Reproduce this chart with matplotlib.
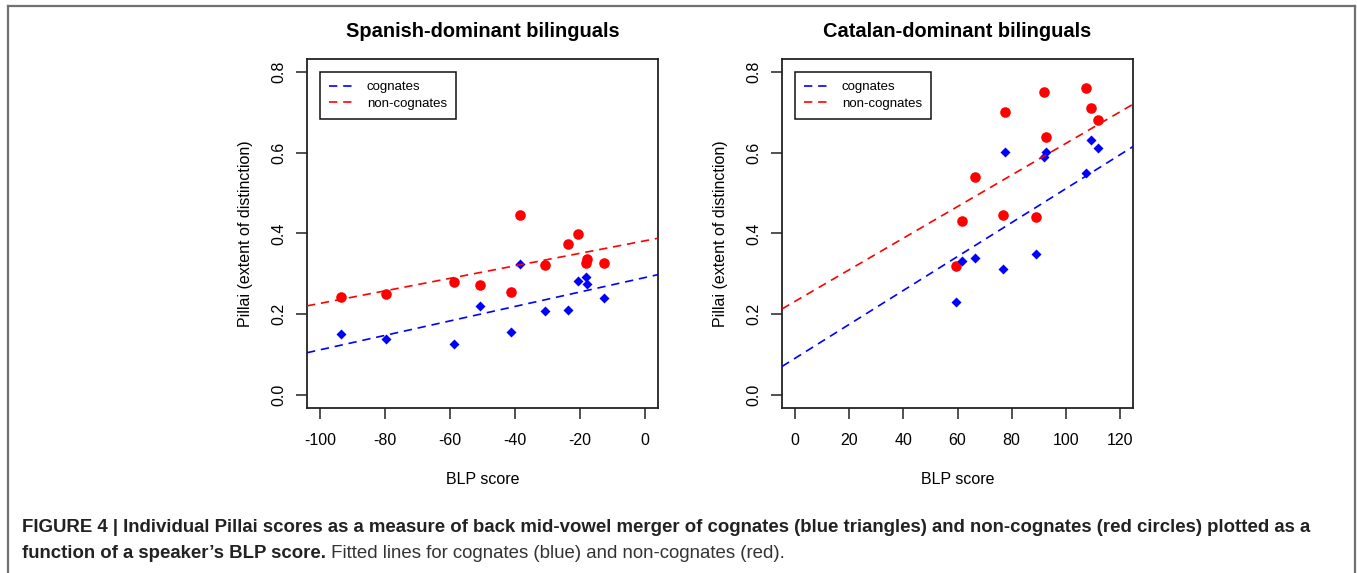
# Pillai scores vs BLP score, two panels (R-style base graphics look)
import matplotlib
matplotlib.use('Agg')
import matplotlib.pyplot as plt
from matplotlib.lines import Line2D

plt.rcParams['font.family'] = ['Liberation Sans', 'DejaVu Sans']

# ---- data ----
# Spanish-dominant
spa_blp = [-93.5, -79.7, -58.9, -50.8, -41.3, -38.5, -30.8, -23.6, -20.7, -18.0, -18.2, -12.7]
spa_noncog = [0.244, 0.251, 0.279, 0.272, 0.254, 0.445, 0.321, 0.374, 0.399, 0.336, 0.326, 0.326]
spa_cog_blp = [-93.6, -79.7, -58.9, -50.8, -41.3, -38.5, -30.8, -23.6, -20.7, -18.1, -17.9, -12.7]
spa_cog = [0.150, 0.138, 0.126, 0.221, 0.156, 0.325, 0.207, 0.210, 0.283, 0.293, 0.274, 0.240]
# fitted lines (intercept, slope)
spa_fit_cog = (0.291, 0.00179)
spa_fit_noncog = (0.382, 0.00155)

# Catalan-dominant
cat_blp = [59.6, 61.5, 66.4, 76.9, 77.6, 89.1, 91.8, 92.5, 107.4, 109.4, 111.9]
cat_noncog = [0.320, 0.431, 0.540, 0.446, 0.702, 0.441, 0.751, 0.640, 0.761, 0.711, 0.681]
cat_cog_blp = [59.6, 61.5, 66.4, 76.9, 77.7, 89.1, 91.9, 92.5, 107.4, 109.4, 111.9]
cat_cog = [0.231, 0.331, 0.340, 0.311, 0.601, 0.350, 0.590, 0.602, 0.550, 0.632, 0.611]
cat_fit_cog = (0.091, 0.00420)
cat_fit_noncog = (0.232, 0.00391)

titles = ['Spanish-dominant bilinguals', 'Catalan-dominant bilinguals']
xticks_spa = [-100, -80, -60, -40, -20, 0]
xticks_cat = [0, 20, 40, 60, 80, 100, 120]
yticks = [0.0, 0.2, 0.4, 0.6, 0.8]

fig = plt.figure(figsize=(13.57, 5.73), dpi=100)
W, H = 1357, 573

def px_axes(x0, x1, y0, y1):
    return fig.add_axes([x0 / W, 1 - y1 / H, (x1 - x0) / W, (y1 - y0) / H])

ax1 = px_axes(307, 658, 59, 408)
ax2 = px_axes(782, 1133, 59, 408)

panels = [
    (ax1, spa_blp, spa_noncog, spa_cog_blp, spa_cog, spa_fit_cog, spa_fit_noncog, xticks_spa, (-100, 0)),
    (ax2, cat_blp, cat_noncog, cat_cog_blp, cat_cog, cat_fit_cog, cat_fit_noncog, xticks_cat, (0, 120)),
]

for i, (ax, xb, yn, xc, yc, fc, fn, xt, xr) in enumerate(panels):
    pad = 0.04 * (xr[1] - xr[0])
    xlim = (xr[0] - pad, xr[1] + pad)
    ax.set_xlim(xlim)
    ax.set_ylim(-0.032, 0.832)

    ax.scatter(xb, yn, s=58, marker='o', color='#ff0000', linewidths=0, zorder=2)
    ax.scatter(xc, yc, s=26, marker='D', color='#0000ff', linewidths=0, zorder=2)

    xs = list(xlim)
    ax.plot(xs, [fc[0] + fc[1] * v for v in xs], color='#0000ff', lw=1.2,
            dashes=(5, 3.5), zorder=3)
    ax.plot(xs, [fn[0] + fn[1] * v for v in xs], color='#ff0000', lw=1.2,
            dashes=(5, 3.5), zorder=3)

    ax.set_xticks(xt)
    ax.set_xticklabels([str(v) for v in xt])
    ax.set_yticks(yticks)
    ax.set_yticklabels(['%.1f' % v for v in yticks], rotation=90, va='center')
    ax.tick_params(direction='out', length=8, width=1.1, labelsize=11.5, pad=7,
                   color='#222222')
    ax.tick_params(axis='x', pad=10)
    for s in ax.spines.values():
        s.set_linewidth(1.3)
        s.set_color('#222222')

    ax.set_title(titles[i], fontsize=14.4, fontweight='bold', pad=16)
    ax.set_xlabel('BLP score', fontsize=11.5, labelpad=17.5)
    ax.set_ylabel('Pillai (extent of distinction)', fontsize=11.5, labelpad=13)

    handles = [Line2D([], [], color='#0000ff', lw=1.2, dashes=(5, 3.5)),
               Line2D([], [], color='#ff0000', lw=1.2, dashes=(5, 3.5))]
    leg = ax.legend(handles, ['cognates', 'non-cognates'], loc='upper left',
                    bbox_to_anchor=(0.037, 0.963), borderaxespad=0,
                    fancybox=False, framealpha=1, edgecolor='#111111',
                    fontsize=9.5, handlelength=1.9, handletextpad=0.95,
                    labelspacing=0.3, borderpad=0.7)
    leg.get_frame().set_linewidth(1.1)

# outer frame (left, top, right)
frame_col = '#707070'
fig.add_artist(Line2D([8 / W, 8 / W], [0, 1 - 6 / H], color=frame_col, lw=1.6))
fig.add_artist(Line2D([8 / W, 1355 / W], [1 - 6 / H, 1 - 6 / H], color=frame_col, lw=1.6))
fig.add_artist(Line2D([1355 / W, 1355 / W], [0, 1 - 6 / H], color=frame_col, lw=1.6))

# caption
cap1 = ('FIGURE 4 | Individual Pillai scores as a measure of back mid-vowel merger of '
        'cognates (blue triangles) and non-cognates (red circles) plotted as a')
cap2b = 'function of a speaker\u2019s BLP score.'
cap2r = ' Fitted lines for cognates (blue) and non-cognates (red).'
fig.text(22 / W, 1 - 528 / H, cap1, fontsize=13.45, fontweight='bold',
         color='#222222', va='center', ha='left')
t2 = fig.text(22 / W, 1 - 554 / H, cap2b, fontsize=13.45, fontweight='bold',
              color='#222222', va='center', ha='left')
ax1.annotate(cap2r, xy=(1, 0), xycoords=t2, ha='left', va='bottom',
             fontsize=13.45, color='#333333', annotation_clip=False)

fig.savefig('out.png', dpi=100)
